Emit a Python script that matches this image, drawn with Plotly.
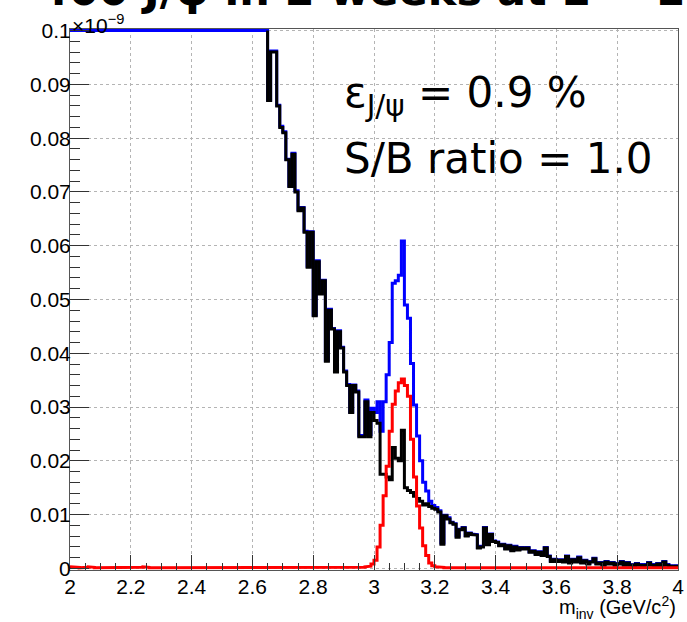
import numpy as np
import plotly.graph_objects as go

# binning: 200 bins of 0.01 GeV/c^2 between 2 and 4
X_MIN, X_MAX, N_BINS = 2.0, 4.0, 200
YMAX = 0.1  # frame top (x 1e-9); larger contents are drawn at the frame

# J/psi signal (red), one value per bin from 2.00 to 3.99
signal = [
    0.0003, 0.0002, 0.0002, 0.0001, 0.0002, 0.0002, 0.0003, 0.0002, 0.0001, 0.0002,
    0.0002, 0.0001, 0.0002, 0.0002, 0.0001, 0.0001, 0.0002, 0.0002, 0.0001, 0.0002,
    0.0002, 0.0002, 0.0001, 0.0002, 0.0003, 0.0002, 0.0001, 0.0002, 0.0002, 0.0001,
    0.0001, 0.0002, 0.0002, 0.0002, 0.0001, 0.0002, 0.0002, 0.0001, 0.0001, 0.0002,
    0.0002, 0.0001, 0.0002, 0.0002, 0.0002, 0.0001, 0.0001, 0.0002, 0.0002, 0.0001,
    0.0002, 0.0002, 0.0001, 0.0002, 0.0002, 0.0001, 0.0002, 0.0002, 0.0001, 0.0001,
    0.0002, 0.0002, 0.0001, 0.0002, 0.0002, 0.0001, 0.0002, 0.0002, 0.0001, 0.0002,
    0.0002, 0.0001, 0.0001, 0.0002, 0.0002, 0.0002, 0.0001, 0.0002, 0.0002, 0.0001,
    0.0001, 0.0002, 0.0002, 0.0001, 0.0002, 0.0002, 0.0001, 0.0002, 0.0002, 0.0001,
    0.0002, 0.0002, 0.0001, 0.0001, 0.0002, 0.0002, 0.0002, 0.0003, 0.0004, 0.0008,
    0.0015, 0.0040, 0.0080, 0.0135, 0.0190, 0.0255, 0.0305, 0.0330, 0.0345, 0.0352,
    0.0340, 0.0320, 0.0240, 0.0170, 0.0116, 0.0075, 0.0042, 0.0024, 0.0010, 0.0005,
    0.0003, 0.0002, 0.0002, 0.0001, 0.0002, 0.0001, 0.0001, 0.0002, 0.0001, 0.0001,
    0.0001, 0.0001, 0.0001, 0.0001, 0.0001, 0.0001, 0.0001, 0.0001, 0.0001, 0.0001,
    0.0001, 0.0001, 0.0001, 0.0001, 0.0001, 0.0001, 0.0001, 0.0001, 0.0001, 0.0001,
    0.0001, 0.0001, 0.0001, 0.0001, 0.0001, 0.0001, 0.0001, 0.0001, 0.0001, 0.0001,
    0.0001, 0.0001, 0.0001, 0.0001, 0.0001, 0.0001, 0.0001, 0.0001, 0.0001, 0.0001,
    0.0001, 0.0001, 0.0001, 0.0001, 0.0001, 0.0001, 0.0001, 0.0001, 0.0001, 0.0001,
    0.0001, 0.0001, 0.0001, 0.0001, 0.0001, 0.0001, 0.0001, 0.0001, 0.0001, 0.0001,
    0.0001, 0.0001, 0.0001, 0.0001, 0.0001, 0.0001, 0.0001, 0.0001, 0.0001, 0.0001,
]

# combinatorial background (black); bins 2.00-2.64 are above the frame
background = [None] * 65 + [
    0.0870, 0.0960, 0.0960, 0.0860, 0.0820,                                      # 2.65-2.69
    0.0810, 0.0760, 0.0710, 0.0770, 0.0700, 0.0665, 0.0670, 0.0625, 0.0560, 0.0625,
    0.0470, 0.0570, 0.0510, 0.0535, 0.0385, 0.0480, 0.0445, 0.0365, 0.0440, 0.0410,
    0.0365, 0.0340, 0.0290, 0.0340, 0.0328, 0.0245, 0.0245, 0.0310, 0.0245, 0.0290,
    0.0275, 0.0270, 0.0175, 0.0175, 0.0170, 0.0165, 0.0225, 0.0205, 0.0200, 0.0257,  # 3.00
    0.0150, 0.0145, 0.0141, 0.0134, 0.0130, 0.0125, 0.0118, 0.0120, 0.0115, 0.0112,
    0.0110, 0.0105, 0.0045, 0.0098, 0.0092, 0.0085, 0.0082, 0.0058, 0.0072, 0.0075,
    0.0060, 0.0065, 0.0063, 0.0062, 0.0038, 0.0040, 0.0075, 0.0044, 0.0063, 0.0050,
    0.0048, 0.0042, 0.0044, 0.0036, 0.0042, 0.0033, 0.0040, 0.0034, 0.0038, 0.0036,
    0.0038, 0.0030, 0.0032, 0.0026, 0.0030, 0.0024, 0.0038, 0.0022, 0.0013, 0.0016,
    0.0013, 0.0015, 0.0012, 0.0022, 0.0010, 0.0016, 0.0012, 0.0020, 0.0010, 0.0014,
    0.0008, 0.0012, 0.0018, 0.0008, 0.0010, 0.0006, 0.0012, 0.0008, 0.0010, 0.0006,
    0.0008, 0.0012, 0.0006, 0.0010, 0.0006, 0.0004, 0.0008, 0.0006, 0.0004, 0.0006,
    0.0010, 0.0006, 0.0004, 0.0008, 0.0004, 0.0012, 0.0006, 0.0004, 0.0002, 0.0004,
]

x_ticks = [2.0, 2.2, 2.4, 2.6, 2.8, 3.0, 3.2, 3.4, 3.6, 3.8, 4.0]
x_ticktext = ["2", "2.2", "2.4", "2.6", "2.8", "3", "3.2", "3.4", "3.6", "3.8", "4"]
y_ticks = [0, 0.01, 0.02, 0.03, 0.04, 0.05, 0.06, 0.07, 0.08, 0.09, 0.1]
y_ticktext = ["0", "0.01", "0.02", "0.03", "0.04", "0.05", "0.06", "0.07", "0.08", "0.09", "0.1"]

edges = np.linspace(X_MIN, X_MAX, N_BINS + 1)


def steps(values, start_level=None):
    # histogram outline: flat top per bin, vertical joins at the edges
    xs, ys = [], []
    for i, v in enumerate(values):
        if v is None:
            continue
        if not xs and start_level is not None:
            xs.append(edges[i]); ys.append(start_level)
        xs += [edges[i], edges[i + 1]]
        ys += [v, v]
    return xs, ys


total = [YMAX if b is None else min(b + s, YMAX) for b, s in zip(background, signal)]

fig = go.Figure()
bx, by = steps(total)
fig.add_trace(go.Scatter(x=bx, y=by, mode="lines", line=dict(color="#0000ff", width=3)))
kx, ky = steps(background, start_level=YMAX)
fig.add_trace(go.Scatter(x=kx, y=ky, mode="lines", line=dict(color="#000000", width=3)))
rx, ry = steps(signal)
fig.add_trace(go.Scatter(x=rx, y=ry, mode="lines", line=dict(color="#ff0000", width=3)))

tick_font = dict(family="Liberation Sans, Arial", size=21, color="black")

fig.update_xaxes(
    range=[X_MIN, X_MAX], tickmode="array", tickvals=x_ticks, ticktext=x_ticktext,
    ticks="inside", ticklen=15, tickcolor="#333", tickwidth=1,
    showline=True, linecolor="#555", linewidth=1, mirror=True,
    showgrid=True, gridcolor="#b4b4b4", griddash="dot", gridwidth=1,
    zeroline=False, tickfont=tick_font, ticklabelstandoff=-2, ticklabeloverflow="allow",
    minor=dict(tick0=2, dtick=0.05, ticks="inside", ticklen=7, tickcolor="#333", showgrid=False),
)
fig.update_yaxes(
    range=[-0.0003, 0.1003], tickmode="array", tickvals=y_ticks, ticktext=y_ticktext,
    ticks="inside", ticklen=19, tickcolor="#333", tickwidth=1,
    showline=True, linecolor="#555", linewidth=1, mirror=True,
    showgrid=True, gridcolor="#b4b4b4", griddash="dot", gridwidth=1,
    zeroline=False, tickfont=tick_font, ticklabelstandoff=-6, ticklabeloverflow="allow",
    minor=dict(tick0=0, dtick=0.002, ticks="inside", ticklen=10, tickcolor="#333", showgrid=False),
)

fig.update_layout(
    width=687, height=622,
    margin=dict(l=70, r=3, t=29, b=52),
    plot_bgcolor="white", paper_bgcolor="white",
    showlegend=False,
    annotations=[
        dict(text="×10<sup>−9</sup>", xref="paper", yref="paper", x=0, y=1,
             xanchor="left", yanchor="bottom", showarrow=False, yshift=-10,
             font=dict(family="Liberation Sans, Arial", size=21, color="black")),
        dict(text="m<sub>inv</sub> (GeV/c<sup>2</sup>)", xref="paper", yref="paper", x=1, y=0,
             xanchor="right", yanchor="top", showarrow=False, yshift=-21,
             font=dict(family="Liberation Sans, Arial", size=20, color="black")),
        dict(text="ε<sub>J/ψ</sub> = 0.9 %", xref="paper", yref="paper", x=0.447, y=0.878,
             xanchor="left", yanchor="middle", showarrow=False,
             font=dict(family="DejaVu Sans", size=42, color="black")),
        dict(text="S/B ratio = 1.0", xref="paper", yref="paper", x=0.447, y=0.761,
             xanchor="left", yanchor="middle", showarrow=False,
             font=dict(family="DejaVu Sans", size=42, color="black")),
        dict(text="<b>400 J/ψ in 2 weeks at L = 10<sup>34</sup></b>", xref="paper", yref="paper",
             x=-0.055, y=1, xanchor="left", yanchor="bottom", showarrow=False, yshift=12,
             font=dict(family="DejaVu Sans", size=43, color="black")),
    ],
)

# the page is photographed at 687x622: drop the default body margin
fig.write_html("out.html", config={"displayModeBar": False},
               post_script="document.body.style.margin='0';")
